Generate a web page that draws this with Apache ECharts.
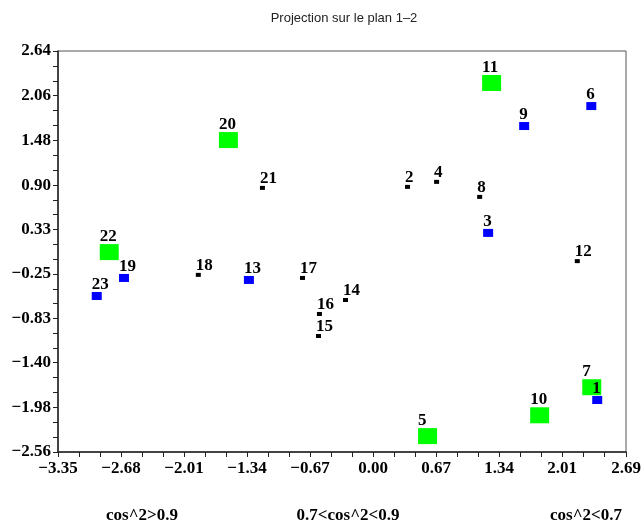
<!DOCTYPE html>
<html>
<head>
<meta charset="utf-8">
<script src="https://cdn.jsdelivr.net/npm/echarts@6/dist/echarts.min.js"></script>
<style>
html,body{margin:0;padding:0;background:#fff;}
#chart{width:641px;height:521px;}
</style>
</head>
<body>
<div id="chart"></div>
<script>
// ---- data ----
const titleText = 'Projection sur le plan 1\u20132';
const xTickLabels = [-3.35, -2.68, -2.01, -1.34, -0.67, 0.00, 0.67, 1.34, 2.01, 2.69];
const yTickLabels = [-2.56, -1.98, -1.40, -0.83, -0.25, 0.33, 0.90, 1.48, 2.06, 2.64];
const legendTexts = ['cos^2>0.9', '0.7<cos^2<0.9', 'cos^2<0.7'];

// large green squares
const greenNames = ['5', '7', '10', '11', '20', '22'];
const greenX = [0.580, 2.326, 1.772, 1.261, -1.538, -2.805];
const greenY = [-2.354, -1.720, -2.084, 2.225, 1.485, 0.032];

// medium blue squares
const blueNames = ['1', '3', '6', '9', '13', '19', '23'];
const blueX = [2.384, 1.224, 2.321, 1.607, -1.320, -2.648, -2.938];
const blueY = [-1.886, 0.281, 1.926, 1.667, -0.329, -0.303, -0.537];

// small black squares
const blackNames = ['2', '4', '8', '12', '14', '15', '16', '17', '18', '21'];
const blackX = [0.367, 0.676, 1.134, 2.172, -0.293, -0.580, -0.570, -0.750, -1.858, -1.176];
const blackY = [0.878, 0.943, 0.748, -0.085, -0.589, -1.056, -0.770, -0.303, -0.263, 0.865];

// ---- helpers ----
function withMinor(ticks) {
  const out = [];
  for (let i = 0; i < ticks.length - 1; i++) {
    const a = ticks[i], b = ticks[i + 1];
    out.push(a, a + (b - a) / 3, a + 2 * (b - a) / 3);
  }
  out.push(ticks[ticks.length - 1]);
  return out;
}
function fmt(v) {
  return (v < 0 ? '\u2212' : '') + Math.abs(v).toFixed(2);
}
function pts(names, xs, ys) {
  return names.map((n, i) => ({ name: n, value: [xs[i], ys[i]] }));
}
const serif = 'Liberation Serif';
const labelStyle = {
  show: true,
  formatter: p => p.name,
  position: [0, 1],
  align: 'left',
  verticalAlign: 'bottom',
  fontFamily: serif,
  fontWeight: 'bold',
  fontSize: 17,
  color: '#000'
};
const axisCommon = {
  type: 'value',
  splitLine: { show: false },
  axisLine: { show: true, onZero: false, lineStyle: { color: '#222', width: 1.5 } },
  axisTick: { show: true, inside: false, length: 5, lineStyle: { color: '#222', width: 1 } },
};

const chart = echarts.init(document.getElementById('chart'), null, { renderer: 'canvas' });
chart.setOption({
  animation: false,
  backgroundColor: '#fff',
  grid: {
    left: 58, top: 51, right: 15, bottom: 69,
    containLabel: false, outerBoundsMode: 'none',
    show: true, borderColor: '#555', borderWidth: 1, backgroundColor: 'transparent'
  },
  xAxis: Object.assign({}, axisCommon, {
    min: xTickLabels[0], max: xTickLabels[xTickLabels.length - 1],
    axisTick: Object.assign({}, axisCommon.axisTick, { customValues: withMinor(xTickLabels) }),
    axisLabel: {
      customValues: xTickLabels, formatter: fmt, margin: 8, hideOverlap: false,
      fontFamily: serif, fontWeight: 'bold', fontSize: 17, color: '#000'
    }
  }),
  yAxis: Object.assign({}, axisCommon, {
    min: yTickLabels[0], max: yTickLabels[yTickLabels.length - 1],
    axisTick: Object.assign({}, axisCommon.axisTick, { customValues: withMinor(yTickLabels) }),
    axisLabel: {
      customValues: yTickLabels, formatter: fmt, margin: 7, hideOverlap: false,
      fontFamily: serif, fontWeight: 'bold', fontSize: 17, color: '#000'
    }
  }),
  graphic: [
    { type: 'text', x: 344, y: 18, style: { text: titleText, fill: '#222', font: '13px "Liberation Sans"', textAlign: 'center', textVerticalAlign: 'middle' } },
    { type: 'text', x: 142, y: 516, style: { text: legendTexts[0], fill: '#000', font: 'bold 17px "Liberation Serif"', textAlign: 'center', textVerticalAlign: 'middle' } },
    { type: 'text', x: 348, y: 516, style: { text: legendTexts[1], fill: '#000', font: 'bold 17px "Liberation Serif"', textAlign: 'center', textVerticalAlign: 'middle' } },
    { type: 'text', x: 586, y: 516, style: { text: legendTexts[2], fill: '#000', font: 'bold 17px "Liberation Serif"', textAlign: 'center', textVerticalAlign: 'middle' } }
  ],
  series: [
    { type: 'scatter', symbol: 'rect', symbolSize: [19, 16], itemStyle: { color: '#00ff00', opacity: 1 },
      data: pts(greenNames, greenX, greenY), label: labelStyle, z: 2 },
    { type: 'scatter', symbol: 'rect', symbolSize: [10, 8], itemStyle: { color: '#0000ff', opacity: 1 },
      data: pts(blueNames, blueX, blueY), label: labelStyle, z: 3 },
    { type: 'scatter', symbol: 'rect', symbolSize: [5, 4], itemStyle: { color: '#000000', opacity: 1 },
      data: pts(blackNames, blackX, blackY), label: labelStyle, z: 4 }
  ]
});
</script>
</body>
</html>
